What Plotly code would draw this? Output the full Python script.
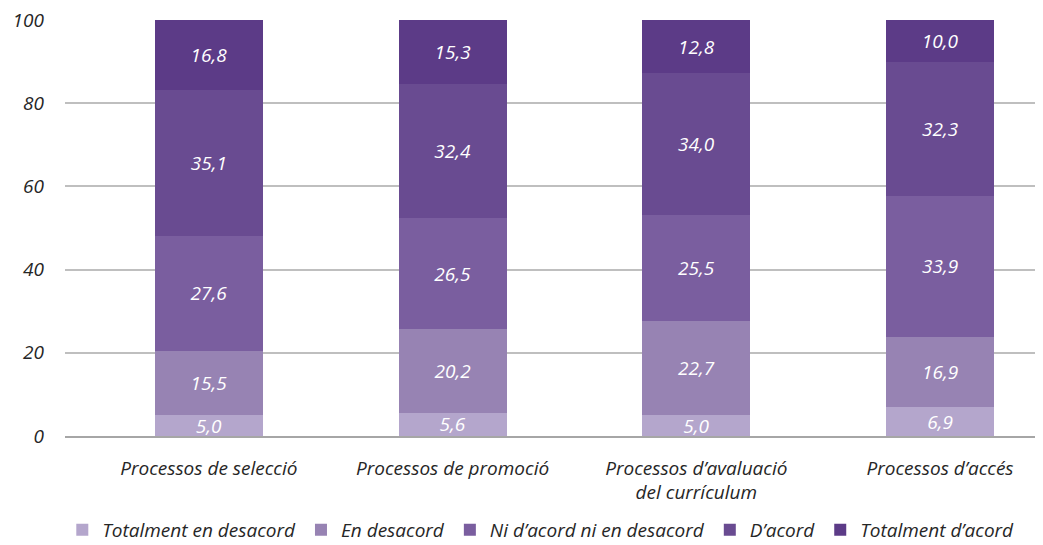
import plotly.graph_objects as go

categories = ["Processos de selecció", "Processos de promoció",
              "Processos d’avaluació<br>del currículum", "Processos d’accés"]
series_names = ["Totalment en desacord", "En desacord", "Ni d’acord ni en desacord",
                "D’acord", "Totalment d’acord"]
totalment_desacord = [5.0, 5.6, 5.0, 6.9]
en_desacord = [15.5, 20.2, 22.7, 16.9]
ni_ni = [27.6, 26.5, 25.5, 33.9]
d_acord = [35.1, 32.4, 34.0, 32.3]
totalment_acord = [16.8, 15.3, 12.8, 10.0]
series_values = [totalment_desacord, en_desacord, ni_ni, d_acord, totalment_acord]
colors = ["#b4a6cc", "#9783b3", "#7a5e9f", "#694b91", "#5c3b87"]

font_family = "Open Sans, Liberation Sans, sans-serif"
FS = 19

fig = go.Figure()
for name, vals, col in zip(series_names, series_values, colors):
    fig.add_trace(go.Bar(
        x=categories, y=vals, name=name, marker=dict(color=col, line=dict(width=0)),
        text=[f"{v:.1f}".replace(".", ",") for v in vals],
        textposition="inside", insidetextanchor="middle", textangle=0,
        constraintext="none",
        textfont=dict(color="white", size=FS, family=font_family, style="italic"),
        hoverinfo="skip",
    ))

fig.update_layout(
    barmode="stack", bargap=0.557,
    width=1035, height=545,
    margin=dict(l=57, r=3, t=12, b=117, autoexpand=False),
    plot_bgcolor="white", paper_bgcolor="white",
    font=dict(family=font_family, color="#262626", size=FS, style="italic"),
    legend=dict(orientation="h", x=0.488, xanchor="center", y=-0.226, yanchor="middle",
                font=dict(size=FS, style="italic"), traceorder="normal",
                itemwidth=30, tracegroupgap=0),
    xaxis=dict(showline=True, linecolor="#a6a6a6", linewidth=1.5, ticks="",
               range=[-0.59, 3.41],
               tickfont=dict(size=FS, style="italic"), ticklabelstandoff=14),
    yaxis=dict(range=[0, 100], dtick=20, showgrid=True, gridcolor="#bfbfbf", gridwidth=1.5,
               zeroline=False, ticks="", tickfont=dict(size=FS, style="italic"),
               ticklabelstandoff=20, ticklabeloverflow="allow"),
)
fig.write_html("out.html")
